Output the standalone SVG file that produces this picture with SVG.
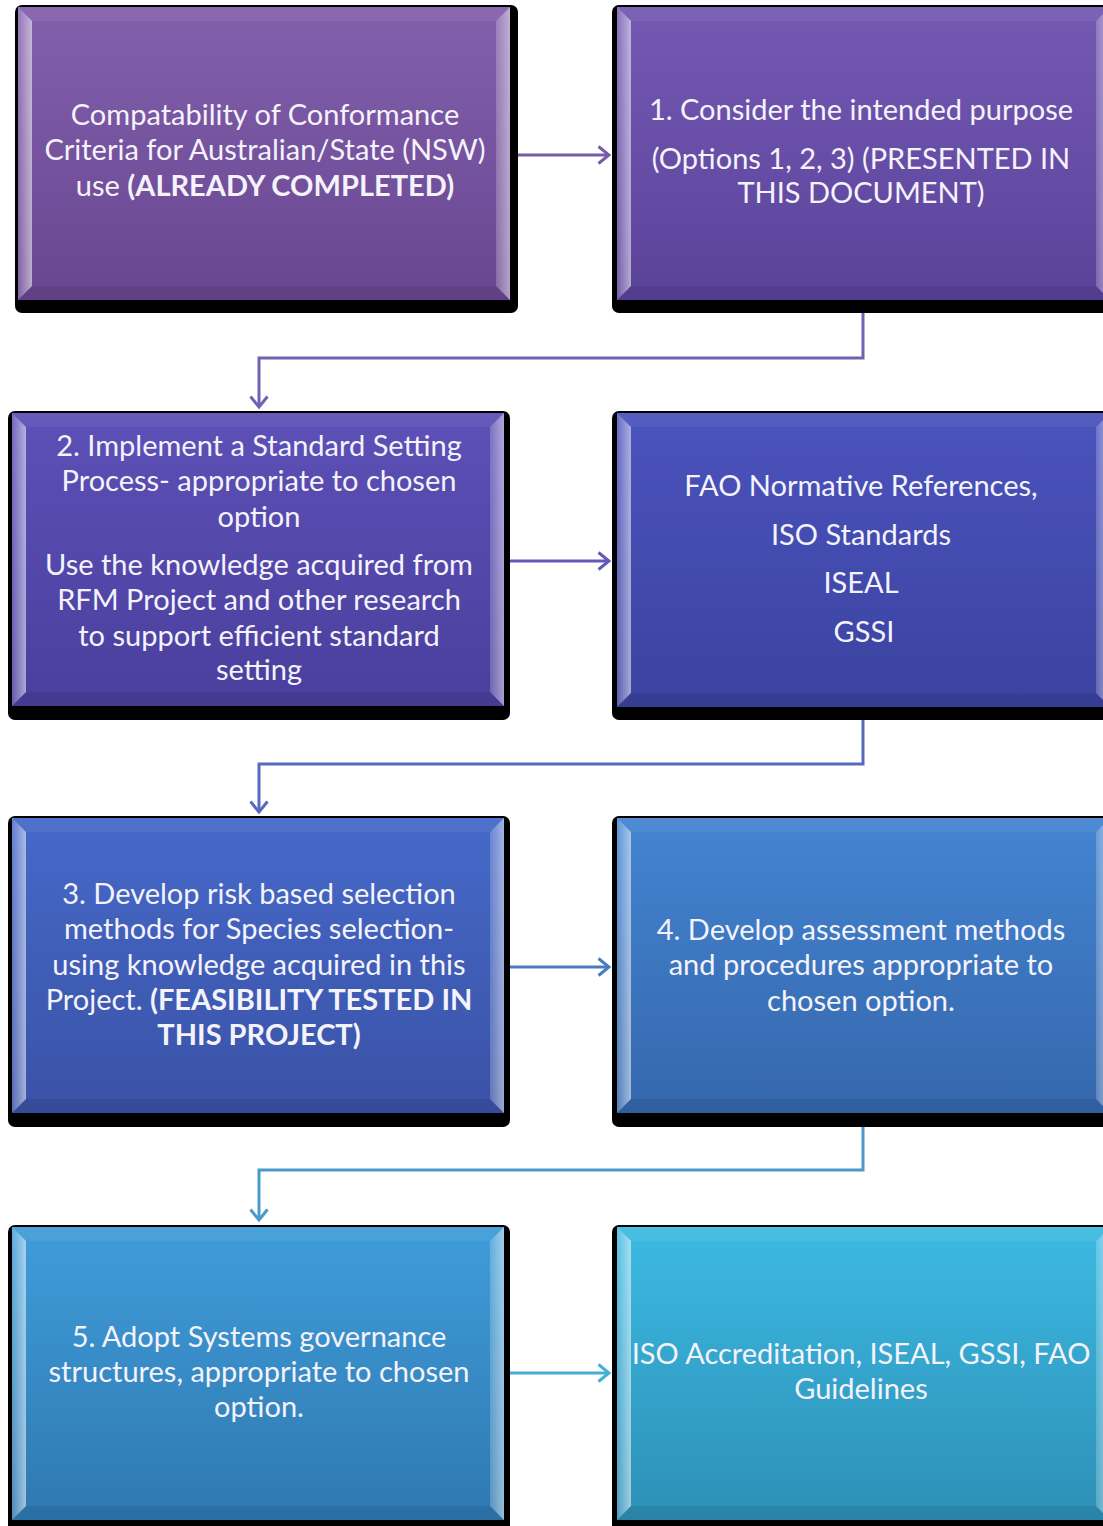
<svg xmlns="http://www.w3.org/2000/svg" width="1103" height="1526" viewBox="0 0 1103 1526">
<style>
.sh{fill:#000}
.lf{fill:url(#gl)}
.rf{fill:url(#gr)}
.tf{fill:#fff;fill-opacity:0.06}
.bf{fill:#000;fill-opacity:0.08}
.t{font-family:Lato,"Open Sans","Liberation Sans",sans-serif;font-size:29px;fill:#f4f2fa;text-anchor:middle}
.b{font-weight:bold}
.c{fill:none;stroke-width:3}
</style>
<defs>
<linearGradient id="gl" x1="0" y1="0" x2="1" y2="0"><stop offset="0" stop-color="#fff" stop-opacity="0.15"/><stop offset="1" stop-color="#fff" stop-opacity="0.55"/></linearGradient>
<linearGradient id="gr" x1="0" y1="0" x2="1" y2="0"><stop offset="0" stop-color="#fff" stop-opacity="0.2"/><stop offset="1" stop-color="#fff" stop-opacity="0.5"/></linearGradient>
<linearGradient id="gA" x1="0" y1="0" x2="0" y2="1"><stop offset="0" stop-color="#8360ac"/><stop offset="1" stop-color="#694690"/></linearGradient>
<linearGradient id="g1" x1="0" y1="0" x2="0" y2="1"><stop offset="0" stop-color="#7459b3"/><stop offset="1" stop-color="#5a4299"/></linearGradient>
<linearGradient id="g2" x1="0" y1="0" x2="0" y2="1"><stop offset="0" stop-color="#5d50b7"/><stop offset="1" stop-color="#4a3f9d"/></linearGradient>
<linearGradient id="gF" x1="0" y1="0" x2="0" y2="1"><stop offset="0" stop-color="#4b53bd"/><stop offset="1" stop-color="#3a43a0"/></linearGradient>
<linearGradient id="g3" x1="0" y1="0" x2="0" y2="1"><stop offset="0" stop-color="#4569c9"/><stop offset="1" stop-color="#3a52a6"/></linearGradient>
<linearGradient id="g4" x1="0" y1="0" x2="0" y2="1"><stop offset="0" stop-color="#4384d1"/><stop offset="1" stop-color="#3567ac"/></linearGradient>
<linearGradient id="g5" x1="0" y1="0" x2="0" y2="1"><stop offset="0" stop-color="#3f9dd9"/><stop offset="1" stop-color="#2f78b1"/></linearGradient>
<linearGradient id="g6" x1="0" y1="0" x2="0" y2="1"><stop offset="0" stop-color="#3cbae2"/><stop offset="1" stop-color="#2d8fb6"/></linearGradient>
<marker id="m1" viewBox="0 0 14 20" refX="12" refY="10" markerWidth="14" markerHeight="20" markerUnits="userSpaceOnUse" orient="auto"><path d="M1.5,1.5 L12,10 L1.5,18.5" fill="none" stroke="#7a5aa6" stroke-width="3"/></marker>
<marker id="m2" viewBox="0 0 14 20" refX="12" refY="10" markerWidth="14" markerHeight="20" markerUnits="userSpaceOnUse" orient="auto"><path d="M1.5,1.5 L12,10 L1.5,18.5" fill="none" stroke="#7062b2" stroke-width="3"/></marker>
<marker id="m3" viewBox="0 0 14 20" refX="12" refY="10" markerWidth="14" markerHeight="20" markerUnits="userSpaceOnUse" orient="auto"><path d="M1.5,1.5 L12,10 L1.5,18.5" fill="none" stroke="#6359b8" stroke-width="3"/></marker>
<marker id="m4" viewBox="0 0 14 20" refX="12" refY="10" markerWidth="14" markerHeight="20" markerUnits="userSpaceOnUse" orient="auto"><path d="M1.5,1.5 L12,10 L1.5,18.5" fill="none" stroke="#586ac0" stroke-width="3"/></marker>
<marker id="m5" viewBox="0 0 14 20" refX="12" refY="10" markerWidth="14" markerHeight="20" markerUnits="userSpaceOnUse" orient="auto"><path d="M1.5,1.5 L12,10 L1.5,18.5" fill="none" stroke="#4a7ac2" stroke-width="3"/></marker>
<marker id="m6" viewBox="0 0 14 20" refX="12" refY="10" markerWidth="14" markerHeight="20" markerUnits="userSpaceOnUse" orient="auto"><path d="M1.5,1.5 L12,10 L1.5,18.5" fill="none" stroke="#4a9ac9" stroke-width="3"/></marker>
<marker id="m7" viewBox="0 0 14 20" refX="12" refY="10" markerWidth="14" markerHeight="20" markerUnits="userSpaceOnUse" orient="auto"><path d="M1.5,1.5 L12,10 L1.5,18.5" fill="none" stroke="#45aed4" stroke-width="3"/></marker>
</defs>
<rect width="1103" height="1526" fill="#fff"/>

<g id="connectors">
<path class="c" stroke="#7a5aa6" d="M510,155 H609" marker-end="url(#m1)"/>
<path class="c" stroke="#7062b2" d="M863,313 V358 H259 V407" marker-end="url(#m2)"/>
<path class="c" stroke="#6359b8" d="M504,561 H609" marker-end="url(#m3)"/>
<path class="c" stroke="#586ac0" d="M863,720 V764 H259 V812" marker-end="url(#m4)"/>
<path class="c" stroke="#4a7ac2" d="M504,967 H609" marker-end="url(#m5)"/>
<path class="c" stroke="#4a9ac9" d="M863,1127 V1170 H259 V1220" marker-end="url(#m6)"/>
<path class="c" stroke="#45aed4" d="M504,1373 H609" marker-end="url(#m7)"/>
</g>

<g id="nodeA">
<rect class="sh" x="15" y="5" width="503" height="308" rx="7"/>
<rect x="18" y="7" width="492" height="293" fill="url(#gA)"/>
<polygon class="tf" points="18,7 510,7 496,21 32,21"/>
<polygon class="bf" points="18,300 510,300 496,286 32,286"/>
<polygon class="lf" points="18,7 32,21 32,286 18,300"/>
<polygon class="rf" points="510,7 496,21 496,286 510,300"/>
<text class="t" x="265" y="125">Compatability of Conformance</text>
<text class="t" x="265" y="160">Criteria for Australian/State (NSW)</text>
<text class="t" x="265" y="196">use <tspan class="b">(ALREADY COMPLETED)</tspan></text>
</g>

<g id="node1">
<rect class="sh" x="612" y="5" width="510" height="308" rx="7"/>
<rect x="617" y="7" width="493" height="293" fill="url(#g1)"/>
<polygon class="tf" points="617,7 1110,7 1096,21 631,21"/>
<polygon class="bf" points="617,300 1110,300 1096,286 631,286"/>
<polygon class="lf" points="617,7 631,21 631,286 617,300"/>
<polygon class="rf" points="1110,7 1096,21 1096,286 1110,300"/>
<text class="t" x="861" y="120">1. Consider the intended purpose</text>
<text class="t" x="861" y="169">(Options 1, 2, 3) (PRESENTED IN</text>
<text class="t" x="861" y="203">THIS DOCUMENT)</text>
</g>

<g id="node2">
<rect class="sh" x="8" y="411" width="502" height="309" rx="7"/>
<rect x="12" y="413" width="492" height="293" fill="url(#g2)"/>
<polygon class="tf" points="12,413 504,413 490,427 26,427"/>
<polygon class="bf" points="12,706 504,706 490,692 26,692"/>
<polygon class="lf" points="12,413 26,427 26,692 12,706"/>
<polygon class="rf" points="504,413 490,427 490,692 504,706"/>
<text class="t" x="259" y="456">2. Implement a Standard Setting</text>
<text class="t" x="259" y="491">Process- appropriate to chosen</text>
<text class="t" x="259" y="527">option</text>
<text class="t" x="259" y="575">Use the knowledge acquired from</text>
<text class="t" x="259" y="610">RFM Project and other research</text>
<text class="t" x="259" y="646">to support efficient standard</text>
<text class="t" x="259" y="680">setting</text>
</g>

<g id="nodeFAO">
<rect class="sh" x="612" y="411" width="510" height="309" rx="7"/>
<rect x="617" y="413" width="493" height="294" fill="url(#gF)"/>
<polygon class="tf" points="617,413 1110,413 1096,427 631,427"/>
<polygon class="bf" points="617,707 1110,707 1096,693 631,693"/>
<polygon class="lf" points="617,413 631,427 631,693 617,707"/>
<polygon class="rf" points="1110,413 1096,427 1096,693 1110,707"/>
<text class="t" x="861" y="496">FAO Normative References,</text>
<text class="t" x="861" y="545">ISO Standards</text>
<text class="t" x="861" y="593">ISEAL</text>
<text class="t" x="864" y="642">GSSI</text>
</g>

<g id="node3">
<rect class="sh" x="8" y="816" width="502" height="311" rx="7"/>
<rect x="12" y="818" width="492" height="295" fill="url(#g3)"/>
<polygon class="tf" points="12,818 504,818 490,832 26,832"/>
<polygon class="bf" points="12,1113 504,1113 490,1099 26,1099"/>
<polygon class="lf" points="12,818 26,832 26,1099 12,1113"/>
<polygon class="rf" points="504,818 490,832 490,1099 504,1113"/>
<text class="t" x="259" y="904">3. Develop risk based selection</text>
<text class="t" x="259" y="939">methods for Species selection-</text>
<text class="t" x="259" y="975">using knowledge acquired in this</text>
<text class="t" x="259" y="1010">Project. <tspan class="b">(FEASIBILITY TESTED IN</tspan></text>
<text class="t b" x="259" y="1045">THIS PROJECT)</text>
</g>

<g id="node4">
<rect class="sh" x="612" y="816" width="510" height="311" rx="7"/>
<rect x="617" y="818" width="493" height="295" fill="url(#g4)"/>
<polygon class="tf" points="617,818 1110,818 1096,832 631,832"/>
<polygon class="bf" points="617,1113 1110,1113 1096,1099 631,1099"/>
<polygon class="lf" points="617,818 631,832 631,1099 617,1113"/>
<polygon class="rf" points="1110,818 1096,832 1096,1099 1110,1113"/>
<text class="t" x="861" y="940">4. Develop assessment methods</text>
<text class="t" x="861" y="975">and procedures appropriate to</text>
<text class="t" x="861" y="1011">chosen option.</text>
</g>

<g id="node5">
<rect class="sh" x="8" y="1225" width="502" height="310" rx="7"/>
<rect x="12" y="1227" width="492" height="293" fill="url(#g5)"/>
<polygon class="tf" points="12,1227 504,1227 490,1241 26,1241"/>
<polygon class="bf" points="12,1520 504,1520 490,1506 26,1506"/>
<polygon class="lf" points="12,1227 26,1241 26,1506 12,1520"/>
<polygon class="rf" points="504,1227 490,1241 490,1506 504,1520"/>
<text class="t" x="259" y="1347">5. Adopt Systems governance</text>
<text class="t" x="259" y="1382">structures, appropriate to chosen</text>
<text class="t" x="259" y="1417">option.</text>
</g>

<g id="node6">
<rect class="sh" x="612" y="1225" width="510" height="310" rx="7"/>
<rect x="617" y="1227" width="493" height="293" fill="url(#g6)"/>
<polygon class="tf" points="617,1227 1110,1227 1096,1241 631,1241"/>
<polygon class="bf" points="617,1520 1110,1520 1096,1506 631,1506"/>
<polygon class="lf" points="617,1227 631,1241 631,1506 617,1520"/>
<polygon class="rf" points="1110,1227 1096,1241 1096,1506 1110,1520"/>
<text class="t" x="861" y="1364">ISO Accreditation, ISEAL, GSSI, FAO</text>
<text class="t" x="861" y="1399">Guidelines</text>
</g>
</svg>
